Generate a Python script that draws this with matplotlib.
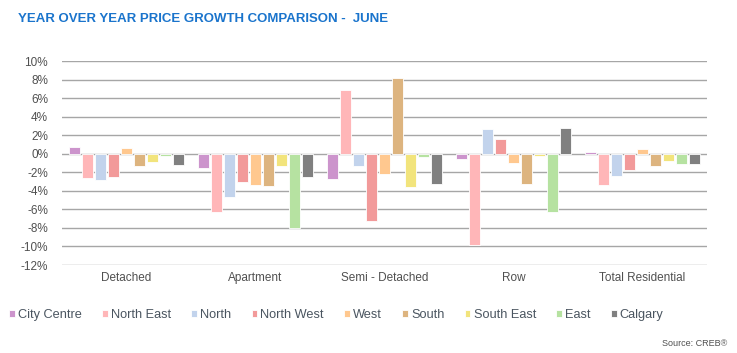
import matplotlib
matplotlib.use("Agg")
import matplotlib.pyplot as plt
import numpy as np

plt.rcParams['font.family'] = ['Liberation Sans', 'DejaVu Sans']

# categories and series (year over year %, June)
categories = ["Detached", "Apartment", "Semi - Detached", "Row", "Total Residential"]
regions = ["City Centre", "North East", "North", "North West", "West",
           "South", "South East", "East", "Calgary"]
city_centre = [0.68, -1.51, -2.73, -0.58, 0.18]
north_east = [-2.66, -6.29, 6.83, -9.89, -3.35]
north = [-2.84, -4.68, -1.29, 2.63, -2.37]
north_west = [-2.52, -3.06, -7.30, 1.55, -1.73]
west = [0.61, -3.42, -2.16, -1.04, 0.47]
south = [-1.29, -3.53, 8.20, -3.31, -1.29]
south_east = [-0.86, -1.33, -3.56, -0.22, -0.79]
east = [-0.25, -7.99, -0.40, -6.26, -1.08]
calgary = [-1.19, -2.48, -3.24, 2.81, -1.12]
series = [city_centre, north_east, north, north_west, west,
          south, south_east, east, calgary]
colors = ["#cc94cc", "#ffb6b8", "#c2d3ec", "#f29a9a", "#ffc88f",
          "#ddb47f", "#f2e47c", "#b6e2a1", "#808080"]
yticks = list(range(-12, 11, 2))

fig = plt.figure(figsize=(7.37, 3.53), dpi=100)
ax = fig.add_axes([62 / 737, 1 - 265 / 353, 645 / 737, 204 / 353])

x = np.arange(len(categories))
slot = 0.101
width = 0.082
for i, (name, vals, c) in enumerate(zip(regions, series, colors)):
    offs = (i - 4) * slot
    ax.bar(x + offs, vals, width, color=c, label=name,
           edgecolor="white", linewidth=0.6, zorder=3)

ax.set_xlim(-0.5, len(categories) - 0.5)
ax.set_ylim(-12, 10)
ax.set_yticks(yticks)
ax.set_yticklabels([f"{t}%" for t in yticks], fontsize=8.5, color="#505050")
ax.set_xticks(x)
ax.set_xticklabels(categories, fontsize=8.5, color="#505050")
ax.tick_params(axis="y", length=0, pad=10)
ax.tick_params(axis="x", length=0, pad=5)
ax.yaxis.grid(True, color="#a6a6a6", linewidth=1.0, zorder=0)
for s in ax.spines.values():
    s.set_visible(False)

fig.text(18 / 737, 1 - 19.5 / 353, "YEAR OVER YEAR PRICE GROWTH COMPARISON -  JUNE",
         fontsize=9.55, fontweight="bold", color="#1a74cc", va="center", ha="left")

leg = fig.legend(loc="center left", bbox_to_anchor=(0.007, 1 - 315 / 353), ncol=9,
                 frameon=False, fontsize=9.2, handlelength=0.45, handleheight=0.45,
                 handletextpad=0.25, columnspacing=1.58, borderaxespad=0,
                 borderpad=0.3)
for t in leg.get_texts():
    t.set_color("#4a5560")

fig.text(727 / 737, 1 - 343 / 353, "Source: CREB®", fontsize=6.5, color="#505050",
         ha="right", va="center")

fig.savefig("out.png", dpi=100)
